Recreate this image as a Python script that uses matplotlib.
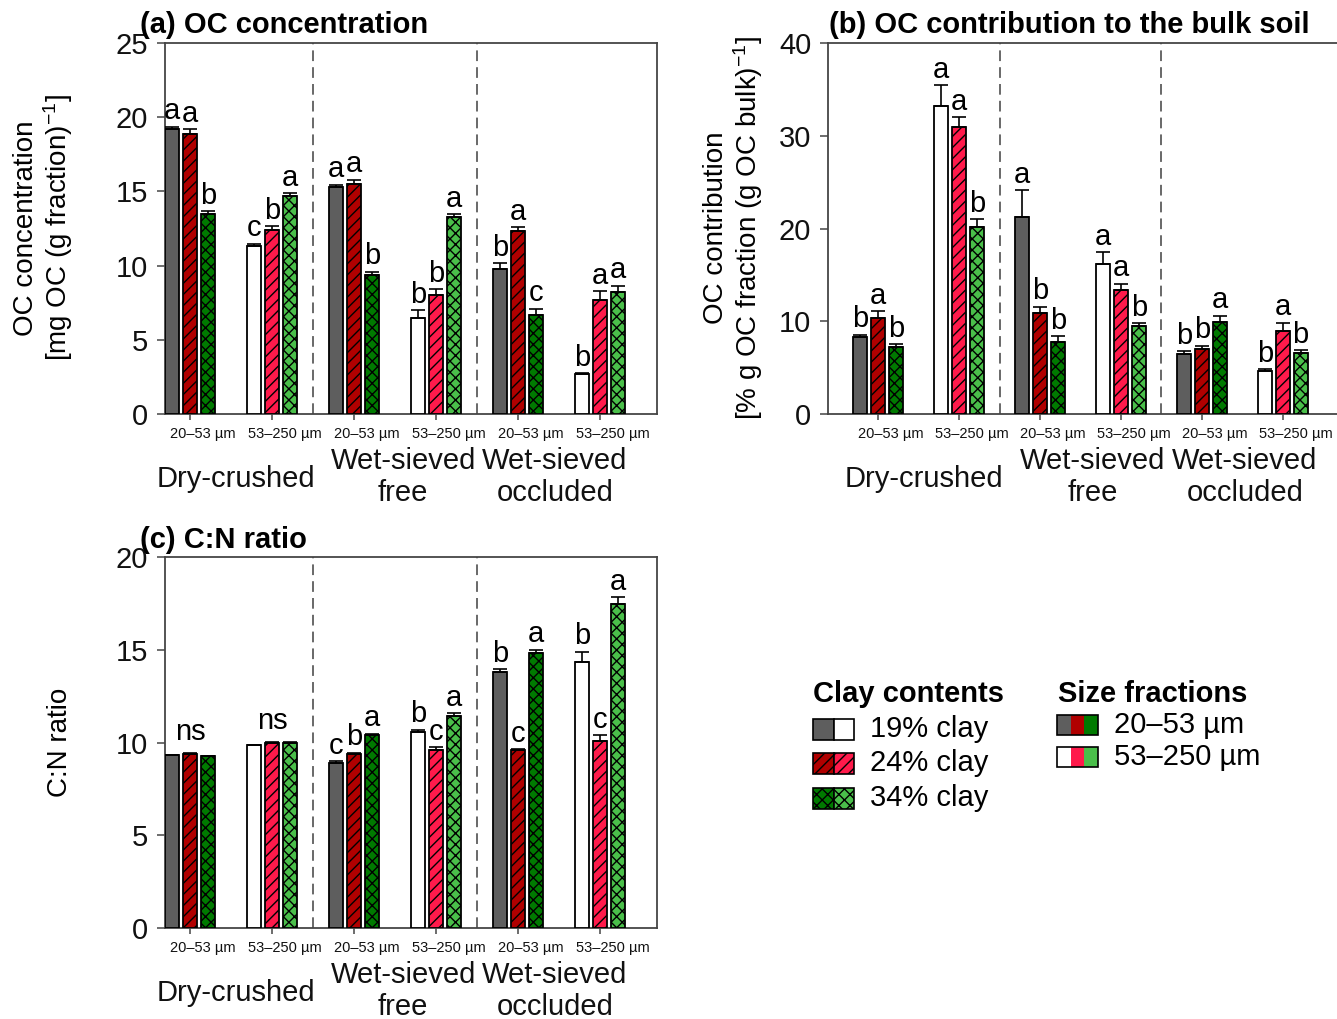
import matplotlib
matplotlib.use('Agg')
import matplotlib.pyplot as plt
import numpy as np
from matplotlib.patches import Rectangle
from matplotlib.transforms import blended_transform_factory

plt.rcParams['font.family'] = ['Liberation Sans', 'DejaVu Sans']
plt.rcParams['hatch.linewidth'] = 1.0
plt.rcParams['mathtext.default'] = 'regular'

# ---------------- data ----------------
size_ticklabels = ['20–53 µm', '53–250 µm', '20–53 µm', '53–250 µm', '20–53 µm', '53–250 µm']
method_line1 = ['Dry-crushed', 'Wet-sieved', 'Wet-sieved']
method_line2 = ['', 'free', 'occluded']
clay_labels = ['19% clay', '24% clay', '34% clay']
fraction_labels = ['20–53 µm', '53–250 µm']

# (a) OC concentration
conc_19 = [19.2, 11.3, 15.3, 6.5, 9.8, 2.7]
conc_24 = [18.9, 12.4, 15.5, 8.0, 12.3, 7.7]
conc_34 = [13.5, 14.7, 9.4, 13.25, 6.7, 8.25]
conc_err_19 = [0.15, 0.18, 0.16, 0.5, 0.36, 0.05]
conc_err_24 = [0.3, 0.25, 0.3, 0.4, 0.27, 0.58]
conc_err_34 = [0.15, 0.18, 0.2, 0.2, 0.4, 0.4]
conc_let_19 = ['a', 'c', 'a', 'b', 'b', 'b']
conc_let_24 = ['a', 'b', 'a', 'b', 'a', 'a']
conc_let_34 = ['b', 'a', 'b', 'a', 'c', 'a']

# (b) OC contribution
contr_19 = [8.3, 33.2, 21.2, 16.2, 6.5, 4.6]
contr_24 = [10.4, 30.9, 10.9, 13.4, 7.0, 9.0]
contr_34 = [7.2, 20.2, 7.8, 9.5, 9.9, 6.6]
contr_err_19 = [0.25, 2.25, 2.9, 1.25, 0.25, 0.2]
contr_err_24 = [0.7, 1.1, 0.65, 0.65, 0.35, 0.85]
contr_err_34 = [0.3, 0.8, 0.6, 0.3, 0.7, 0.3]
contr_let_19 = ['b', 'a', 'a', 'a', 'b', 'b']
contr_let_24 = ['a', 'a', 'b', 'a', 'b', 'a']
contr_let_34 = ['b', 'b', 'b', 'b', 'a', 'b']

# (c) C:N ratio
cn_19 = [9.3, 9.85, 8.9, 10.55, 13.8, 14.35]
cn_24 = [9.4, 10.0, 9.4, 9.6, 9.6, 10.1]
cn_34 = [9.25, 10.0, 10.4, 11.45, 14.85, 17.45]
cn_err_19 = [0.03, 0.03, 0.1, 0.15, 0.15, 0.55]
cn_err_24 = [0.03, 0.03, 0.05, 0.15, 0.05, 0.3]
cn_err_34 = [0.03, 0.03, 0.08, 0.12, 0.15, 0.38]
cn_let_19 = ['', '', 'c', 'b', 'b', 'b']
cn_let_24 = ['', '', 'b', 'c', 'c', 'c']
cn_let_34 = ['', '', 'a', 'a', 'a', 'a']
cn_group_let = ['ns', 'ns', '', '', '', '']

# ---------------- style ----------------
dark_cols = ['#5e5e5e', '#b00000', '#007a00']
light_cols = ['#ffffff', '#ff1a4b', '#4abf4a']
hatches = ['', '///', 'xxx']
offsets = [-0.22, 0.0, 0.22]
bar_w = 0.175
label_shift = 0.16
spine_col = '#454545'
FS = 21

W, H = 1337, 1019
fig = plt.figure(figsize=(W / 100, H / 100), dpi=100)


def px_axes(l, r, t, b):
    return fig.add_axes([l / W, 1 - b / H, (r - l) / W, (b - t) / H])


def draw_panel(ax, vals, errs, lets, ymax, ystep, xlim, group_lets=None,
               right_spine=True):
    x0 = np.arange(6)
    for i in range(3):
        cols = [dark_cols[i] if g % 2 == 0 else light_cols[i] for g in range(6)]
        x = x0 + offsets[i]
        ax.bar(x, vals[i], width=bar_w, color=cols, edgecolor='black',
               linewidth=1.3, hatch=hatches[i], zorder=3)
        ax.errorbar(x, vals[i], yerr=[np.zeros(6), errs[i]], fmt='none',
                    ecolor='black', elinewidth=1.2, capsize=5, capthick=1.2,
                    zorder=4)
        for g in range(6):
            if lets[i][g]:
                ax.annotate(lets[i][g], (x[g], vals[i][g] + errs[i][g]),
                            xytext=(0, 1), textcoords='offset points',
                            ha='center', va='bottom', fontsize=FS, zorder=5)
    if group_lets is not None:
        for g in range(6):
            if group_lets[g]:
                top = max(vals[i][g] + errs[i][g] for i in range(3))
                ax.annotate(group_lets[g], (g, top), xytext=(0, 5),
                            textcoords='offset points', ha='center',
                            va='bottom', fontsize=FS, zorder=5)
    for xv in (1.5, 3.5):
        ax.axvline(xv, color='#404040', lw=1.1, ls=(0, (7, 4)), zorder=1)
    ax.set_xlim(*xlim)
    ax.set_ylim(0, ymax)
    ax.set_yticks(np.arange(0, ymax + 0.01, ystep))
    # tick marks at group centres, labels slightly to the right (minor ticks)
    ax.set_xticks(x0)
    ax.set_xticklabels([''] * 6)
    ax.set_xticks(x0 + label_shift, minor=True)
    ax.set_xticklabels(size_ticklabels, minor=True, fontsize=10.5)
    ax.tick_params(axis='x', which='major', length=4, width=1.1,
                   colors=spine_col)
    ax.tick_params(axis='x', which='minor', length=0, pad=9.5,
                   labelcolor='#111111')
    ax.tick_params(axis='y', length=6, width=1.1, pad=6, labelsize=FS,
                   colors=spine_col, labelcolor='#111111')
    for s in ax.spines.values():
        s.set_color(spine_col)
        s.set_linewidth(1.3)
    if not right_spine:
        ax.spines['right'].set_visible(False)
    tr = blended_transform_factory(ax.transData, ax.transAxes)
    return tr


def method_labels(ax, tr, xs):
    for k in range(3):
        if method_line2[k]:
            ax.text(xs[k], -0.127, method_line1[k], transform=tr, ha='center',
                    va='center', fontsize=FS, color='#111111')
            ax.text(xs[k], -0.213, method_line2[k], transform=tr, ha='center',
                    va='center', fontsize=FS, color='#111111')
        else:
            ax.text(xs[k], -0.175, method_line1[k], transform=tr, ha='center',
                    va='center', fontsize=FS, color='#111111')


# (a)
axa = px_axes(165, 657, 43, 414)
tra = draw_panel(axa, [conc_19, conc_24, conc_34],
                 [conc_err_19, conc_err_24, conc_err_34],
                 [conc_let_19, conc_let_24, conc_let_34], 25, 5, (-0.305, 5.695))
method_labels(axa, tra, [0.56, 2.6, 4.45])

# (b)
axb = px_axes(828, 1337, 43, 414)
trb = draw_panel(axb, [contr_19, contr_24, contr_34],
                 [contr_err_19, contr_err_24, contr_err_34],
                 [contr_let_19, contr_let_24, contr_let_34], 40, 10,
                 (-0.62, 5.67), right_spine=False)
method_labels(axb, trb, [0.57, 2.65, 4.53])

# (c)
axc = px_axes(165, 657, 557, 928)
trc = draw_panel(axc, [cn_19, cn_24, cn_34],
                 [cn_err_19, cn_err_24, cn_err_34],
                 [cn_let_19, cn_let_24, cn_let_34], 20, 5, (-0.305, 5.695),
                 group_lets=cn_group_let)
method_labels(axc, trc, [0.56, 2.6, 4.45])

# titles & axis labels (figure pixel positions)
def ftext(x, y, s, **kw):
    fig.text(x / W, 1 - y / H, s, **kw)

ftext(140, 25, '(a) OC concentration', fontsize=FS, fontweight='bold',
      ha='left', va='center')
ftext(829, 25, '(b) OC contribution to the bulk soil', fontsize=FS,
      fontweight='bold', ha='left', va='center')
ftext(140, 540, '(c) C:N ratio', fontsize=FS, fontweight='bold', ha='left',
      va='center')

ftext(44, 228, 'OC concentration\n[mg OC (g fraction)$^{-1}$]', fontsize=FS - 1,
      rotation=90, ha='center', va='center', multialignment='center',
      linespacing=1.1)
ftext(734, 228, 'OC contribution\n[% g OC fraction (g OC bulk)$^{-1}$]',
      fontsize=FS - 1, rotation=90, ha='center', va='center',
      multialignment='center', linespacing=1.1)
ftext(60, 742, 'C:N ratio', fontsize=FS - 1, rotation=90, ha='center',
      va='center')

# ---------------- legend ----------------
lax = fig.add_axes([0, 0, 1, 1])
lax.set_xlim(0, W)
lax.set_ylim(H, 0)
lax.axis('off')
lax.patch.set_visible(False)

lax.text(813, 694, 'Clay contents', fontsize=FS, fontweight='bold', ha='left',
         va='center')
clay_rows = [729, 763, 798]
for i, yc in enumerate(clay_rows):
    lax.add_patch(Rectangle((813, yc - 10.5), 20.5, 21, facecolor=dark_cols[i],
                            edgecolor='black', lw=1.2, hatch=hatches[i]))
    lax.add_patch(Rectangle((833.5, yc - 10.5), 20.5, 21, facecolor=light_cols[i],
                            edgecolor='black', lw=1.2, hatch=hatches[i]))
    lax.text(870, yc, clay_labels[i], fontsize=FS, ha='left', va='center')

lax.text(1058, 694, 'Size fractions', fontsize=FS, fontweight='bold', ha='left',
         va='center')
size_rows = [725, 757]
for r, yc in enumerate(size_rows):
    cols = dark_cols if r == 0 else light_cols
    for k in range(3):
        lax.add_patch(Rectangle((1057 + k * 13.7, yc - 10), 13.7, 20,
                                facecolor=cols[k], edgecolor='none'))
    lax.add_patch(Rectangle((1057, yc - 10), 41, 20, facecolor='none',
                            edgecolor='black', lw=1.2))
    lax.text(1114, yc, fraction_labels[r], fontsize=FS, ha='left', va='center')

fig.savefig('out.png', dpi=100)
